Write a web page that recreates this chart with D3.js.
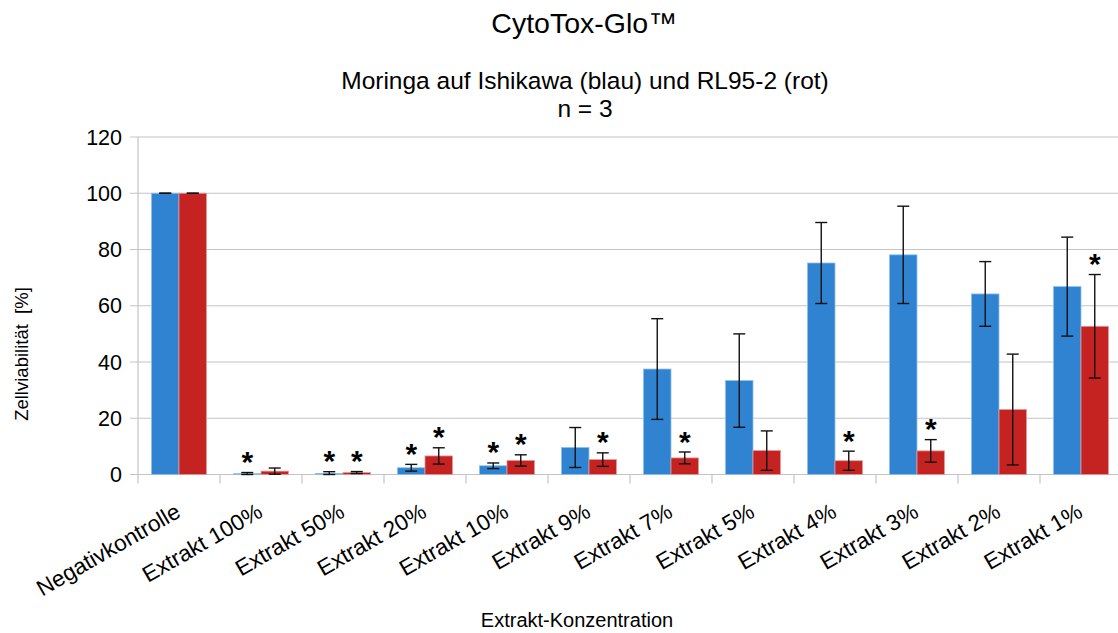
<!DOCTYPE html>
<html>
<head>
<meta charset="utf-8">
<script src="https://cdn.jsdelivr.net/npm/d3@7"></script>
<style>
  body { margin: 0; background: #fff; }
  text { font-family: "Liberation Sans", Arial, sans-serif; fill: #000; white-space: pre; }
</style>
</head>
<body>
<div class="canvas"></div>
<script>
// data
const categories = ["Negativkontrolle", "Extrakt 100%", "Extrakt 50%", "Extrakt 20%", "Extrakt 10%",
  "Extrakt 9%", "Extrakt 7%", "Extrakt 5%", "Extrakt 4%", "Extrakt 3%", "Extrakt 2%", "Extrakt 1%"];
const ishikawa   = [100, 0.3, 0.4, 2.4, 3.1, 9.6, 37.5, 33.4, 75.2, 78.1, 64.2, 66.8];
const ishikawaSD = [0, 0.4, 0.6, 1.2, 1.0, 7.1, 17.9, 16.6, 14.4, 17.3, 11.5, 17.6];
const rl95       = [100, 1.2, 0.7, 6.6, 5.0, 5.3, 5.9, 8.5, 4.9, 8.4, 23.1, 52.7];
const rl95SD     = [0, 1.1, 0.35, 2.9, 2.0, 2.4, 2.1, 7.0, 3.4, 4.0, 19.7, 18.4];
const ishikawaSig = [false, true, true, true, true, false, false, false, false, false, false, false];
const rl95Sig     = [false, false, true, true, true, true, true, false, true, true, false, true];
const yTicks = [0, 20, 40, 60, 80, 100, 120];

const W = 1118, H = 633;
const plot = { left: 138, right: 1122, top: 137, bottom: 474.5 };

const svg = d3.select(".canvas").append("svg")
  .attr("width", W).attr("height", H);

const x = d3.scaleBand().domain(categories).range([plot.left, plot.right]);
const sub = d3.scaleBand().domain(["ishikawa", "rl95"]).range([13.5, 68.5]);
const y = d3.scaleLinear().domain([0, 120]).range([plot.bottom, plot.top]);

// gridlines + y ticks
svg.append("g").selectAll("line").data(yTicks).join("line")
  .attr("x1", plot.left - 8).attr("x2", W)
  .attr("y1", d => y(d)).attr("y2", d => y(d))
  .attr("stroke", "#c4c4c4").attr("stroke-width", 1.2);

svg.append("g").selectAll("text").data(yTicks).join("text")
  .attr("x", 122).attr("y", d => y(d)).attr("dy", "0.36em")
  .attr("text-anchor", "end").style("font-size", "21.5px")
  .text(d => d);

// axis lines
svg.append("line").attr("x1", plot.left).attr("x2", plot.left)
  .attr("y1", plot.top).attr("y2", plot.bottom + 9)
  .attr("stroke", "#c4c4c4").attr("stroke-width", 1.2);
svg.append("g").selectAll("line").data(categories.slice(1)).join("line")
  .attr("x1", d => x(d)).attr("x2", d => x(d))
  .attr("y1", plot.bottom).attr("y2", plot.bottom + 9)
  .attr("stroke", "#c4c4c4").attr("stroke-width", 1.2);

// rows for bars
const rows = [];
categories.forEach((c, i) => {
  rows.push({ cat: c, key: "ishikawa", v: ishikawa[i], sd: ishikawaSD[i], sig: ishikawaSig[i],
    fill: "#2f83d0", stroke: "#8ec0ec" });
  rows.push({ cat: c, key: "rl95", v: rl95[i], sd: rl95SD[i], sig: rl95Sig[i],
    fill: "#c42322", stroke: "#e59a9a" });
});

svg.append("g").selectAll("rect").data(rows).join("rect")
  .attr("x", d => x(d.cat) + sub(d.key))
  .attr("y", d => y(d.v))
  .attr("width", sub.bandwidth())
  .attr("height", d => y(0) - y(d.v))
  .attr("fill", d => d.fill)
  .attr("stroke", d => d.stroke).attr("stroke-width", 0.8);

// error bars
const eb = svg.append("g").attr("stroke", "#111").attr("stroke-width", 1.4);
rows.forEach(d => {
  const cx = x(d.cat) + sub(d.key) + sub.bandwidth() / 2;
  const hi = y(d.v + d.sd), lo = y(Math.max(0, d.v - d.sd));
  eb.append("line").attr("x1", cx).attr("x2", cx).attr("y1", hi).attr("y2", lo);
  eb.append("line").attr("x1", cx - 6).attr("x2", cx + 6).attr("y1", hi).attr("y2", hi);
  eb.append("line").attr("x1", cx - 6).attr("x2", cx + 6).attr("y1", lo).attr("y2", lo);
});

// significance marks
svg.append("g").selectAll("text").data(rows.filter(d => d.sig)).join("text")
  .attr("x", d => x(d.cat) + sub(d.key) + sub.bandwidth() / 2)
  .attr("y", d => y(d.v + d.sd) - 0.5)
  .attr("text-anchor", "middle")
  .style("font-size", "30px").style("font-weight", "bold")
  .text("*");

// category labels
svg.append("g").selectAll("text").data(categories).join("text")
  .attr("transform", d => `translate(${x(d) + x.bandwidth() / 2 + 3}, 516) rotate(-30)`)
  .attr("text-anchor", "end")
  .style("font-size", "22.5px")
  .text(d => d);

// titles
svg.append("text").attr("x", 584).attr("y", 33).attr("text-anchor", "middle")
  .style("font-size", "28.5px").text("CytoTox-Glo™");
svg.append("text").attr("x", 585).attr("y", 89).attr("text-anchor", "middle")
  .style("font-size", "24.5px").text("Moringa auf Ishikawa (blau) und RL95-2 (rot)");
svg.append("text").attr("x", 585).attr("y", 117).attr("text-anchor", "middle")
  .style("font-size", "24.5px").text("n = 3");

svg.append("text").attr("x", 577).attr("y", 627).attr("text-anchor", "middle")
  .style("font-size", "20px").text("Extrakt-Konzentration");
svg.append("text").attr("transform", "translate(28, 354) rotate(-90)")
  .attr("text-anchor", "middle").style("font-size", "18.5px")
  .text("Zellviabilität  [%]");
</script>
</body>
</html>
